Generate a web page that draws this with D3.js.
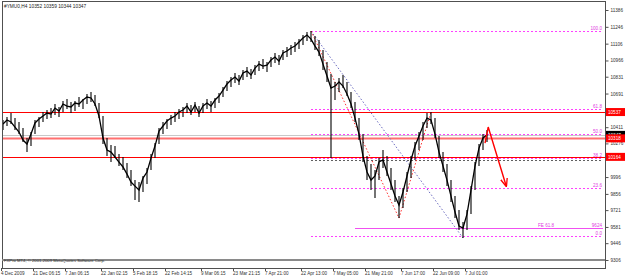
<!DOCTYPE html>
<html>
<head>
<meta charset="utf-8">
<script src="https://cdn.jsdelivr.net/npm/d3@7"></script>
<style>
  body { margin: 0; background: #fff; }
  svg text { font-family: "Liberation Sans", Arial, sans-serif; }
</style>
</head>
<body>
<svg id="chart" width="625" height="277"></svg>
<script>
// H4 bars, one per entry
const hi = [10471,10496,10529,10487,10454,10404,10321,10371,10471,10496,
  10537,10554,10570,10604,10579,10629,10645,10620,10629,10662,
  10645,10687,10704,10679,10612,10504,10321,10263,10254,10188,
  10163,10113,10055,9971,9955,10005,10071,10188,10279,10404,
  10454,10479,10512,10537,10562,10579,10612,10595,10620,10587,
  10612,10645,10629,10654,10695,10745,10795,10828,10862,10845,
  10887,10912,10895,10928,10961,10978,10953,10995,11028,11011,
  11053,11078,11095,11120,11144,11178,11203,11211,11169,11136,
  11053,10953,10853,10787,10820,10845,10787,10704,10620,10487,
  10354,10171,10105,10055,10154,10221,10171,10071,9971,9838,
  9905,10038,10171,10288,10371,10454,10529,10537,10487,10337,
  10204,10105,9971,9838,9722,9622,9722,9921,10121,10271,
  10354,10387];
const lo = [10387,10421,10437,10387,10354,10288,10204,10254,10354,10412,
  10454,10479,10487,10512,10496,10537,10562,10529,10545,10579,
  10562,10604,10620,10587,10487,10271,10171,10121,10154,10088,
  10055,9988,9921,9805,9788,9872,9938,10055,10154,10271,
  10354,10396,10429,10454,10479,10496,10529,10512,10537,10496,
  10529,10562,10537,10570,10612,10662,10712,10745,10778,10762,
  10803,10828,10812,10845,10878,10895,10870,10912,10945,10928,
  10970,10995,11011,11036,11061,11095,11128,11120,11053,11003,
  10887,10787,10154,10637,10704,10737,10670,10570,10454,10304,
  10121,9971,9888,9822,9971,10071,10005,9888,9788,9655,
  9739,9872,9988,10138,10221,10304,10404,10437,10321,10154,
  10038,9921,9788,9655,9555,9489,9555,9688,9888,10088,
  10221,10288];
const close = [10437,10471,10454,10412,10371,10304,10271,10354,10446,10479,
  10504,10529,10520,10570,10545,10604,10587,10579,10612,10604,
  10637,10662,10654,10604,10504,10321,10221,10204,10163,10121,
  10080,10021,9955,9921,9888,9988,10038,10154,10254,10379,
  10421,10462,10487,10504,10537,10554,10587,10537,10595,10529,
  10587,10612,10587,10637,10670,10720,10770,10803,10828,10795,
  10862,10878,10845,10903,10936,10920,10928,10970,10995,10961,
  11028,11045,11070,11086,11120,11153,11178,11144,11086,11036,
  10936,10837,10737,10753,10787,10753,10687,10604,10487,10354,
  10171,10038,9971,10005,10121,10138,10038,9938,9838,9763,
  9872,10005,10138,10254,10337,10421,10487,10471,10354,10204,
  10088,9971,9838,9705,9589,9572,9688,9888,10088,10237,
  10321,10347];

const timeLabels = ["4 Dec 2009","21 Dec 06:15","7 Jan 06:15","22 Jan 02:15","5 Feb 18:15",
  "22 Feb 14:15","9 Mar 06:15","23 Mar 21:15","7 Apr 21:00","22 Apr 13:00",
  "7 May 05:00","21 May 21:00","7 Jun 17:00","22 Jun 09:00","7 Jul 01:00"];
const timeLabelBars = [0, 8, 16, 25, 33, 41, 50, 58, 66, 75, 83, 91, 100, 108, 116];

// ticks hidden behind the price boxes are left out
const priceTicks = [11386,11246,11106,10966,10831,10691,10411,10276,9996,9856,9721,9581,9446,9306];

const fibNames = ["100.0","61.8","50.0","38.2","23.6","0.0"];
const fibPrices = [11211,10560,10358,10157,9908,9506];
const fibStartBar = 77;
const fePrice = 9572, feStartBar = 88, feName = "FE 61.8", feText = "9624";

const hLines = [10537, 10318, 10164];   // red horizontal lines
const bidPrice = 10347;
const zigzag = [[77,11211],[99,9655],[107,10537]];
const trendLine = [[77,11211],[115,9489]];
const arrowPath = [[120.5,10279],[121.3,10412],[125.8,9922]];

const header = "#YMU0,H4  10352 10359 10344 10347";
const copyright = "FXPro MT4, \u00a9 2001-2009 MetaQuotes Software Corp.";

const svg = d3.select("#chart");
const frameL = 2, frameR = 605, frameT = 1, frameB = 268;

const x = d3.scaleLinear().domain([0, 150.5]).range([3, 605]);
const y = d3.scaleLinear().domain([9306, 11386]).range([260, 10]);
const py = v => Math.round(y(v)) + 0.5;   // crisp horizontal lines

const defs = svg.append("defs");
defs.append("marker").attr("id", "arr")
  .attr("viewBox", "0 0 10 10").attr("refX", 9).attr("refY", 5)
  .attr("markerWidth", 6).attr("markerHeight", 6).attr("orient", "auto")
  .append("path").attr("d", "M0,1 L10,5 L0,9").attr("fill", "none")
  .attr("stroke", "#ff0000").attr("stroke-width", 1.6);

const plot = svg.append("g");

// bid line
plot.append("line").attr("x1", frameL).attr("x2", frameR)
  .attr("y1", py(bidPrice)).attr("y2", py(bidPrice))
  .attr("stroke", "#c8c8c8").attr("stroke-width", 1);

// red levels
plot.selectAll(".hl").data(hLines).enter().append("line")
  .attr("x1", frameL).attr("x2", frameR)
  .attr("y1", d => py(d)).attr("y2", d => py(d))
  .attr("stroke", (d, i) => i == 1 ? "#ff7070" : "#ff0000")
  .attr("stroke-width", (d, i) => i == 1 ? 2 : 1);
plot.append("line").attr("x1", x(fibStartBar)).attr("x2", frameR - 2)
  .attr("y1", py(10164) + 3).attr("y2", py(10164) + 3)
  .attr("stroke", "#606060").attr("stroke-dasharray", "2,2");

// fibo
plot.selectAll(".fib").data(fibPrices).enter().append("line")
  .attr("x1", x(fibStartBar)).attr("x2", frameR - 2)
  .attr("y1", d => py(d)).attr("y2", d => py(d))
  .attr("stroke", "#ff40ff").attr("stroke-width", 1).attr("stroke-dasharray", "2,2")
  .attr("shape-rendering", "crispEdges");
plot.selectAll(".fibt").data(fibNames).enter().append("text")
  .attr("x", frameR - 3).attr("y", (d, i) => py(fibPrices[i]) - 1.5)
  .attr("text-anchor", "end").attr("font-size", 4.6).attr("fill", "#e040e0")
  .text(d => d);

plot.append("line").attr("x1", x(feStartBar)).attr("x2", frameR - 2)
  .attr("y1", py(fePrice)).attr("y2", py(fePrice))
  .attr("stroke", "#f050f0").attr("stroke-width", 1.2);
plot.append("text").attr("x", 538).attr("y", py(fePrice) - 1.5)
  .attr("font-size", 4.6).attr("fill", "#e040e0").text(feName);
plot.append("text").attr("x", frameR - 3).attr("y", py(fePrice) - 1.5)
  .attr("text-anchor", "end").attr("font-size", 4.6).attr("fill", "#e040e0").text(feText);

const ln = d3.line().x(d => x(d[0])).y(d => y(d[1]));
plot.append("path").attr("d", ln(trendLine)).attr("fill", "none")
  .attr("stroke", "#6a6ac0").attr("stroke-dasharray", "1.5,2");
plot.append("path").attr("d", ln(zigzag)).attr("fill", "none")
  .attr("stroke", "#ff3030").attr("stroke-dasharray", "1.5,2");

// price bars
const bars = plot.append("g");
bars.selectAll(".b").data(hi).enter().append("line")
  .attr("x1", (d, i) => x(i)).attr("x2", (d, i) => x(i))
  .attr("y1", d => y(d)).attr("y2", (d, i) => y(lo[i]))
  .attr("stroke", "#000").attr("stroke-width", 1.1);
bars.append("path").attr("d", d3.line().x((d, i) => x(i)).y(d => y(d))(close))
  .attr("fill", "none").attr("stroke", "#000").attr("stroke-width", 1.3);

plot.append("path").attr("d", ln(arrowPath)).attr("fill", "none")
  .attr("stroke", "#ff0000").attr("stroke-width", 1.4).attr("marker-end", "url(#arr)");

// frame
svg.append("rect").attr("x", frameL + 0.5).attr("y", frameT + 0.5)
  .attr("width", frameR - frameL).attr("height", frameB - frameT)
  .attr("fill", "none").attr("stroke", "#505050");
svg.append("line").attr("x1", frameL).attr("x2", frameR).attr("y1", 260).attr("y2", 260)
  .attr("stroke", "#8a8a8a").attr("stroke-width", 2.2);
svg.append("text").attr("x", 4).attr("y", 261.5).attr("font-size", 4.2)
  .attr("fill", "#303030").text(copyright);
svg.append("text").attr("x", 4).attr("y", 8).attr("font-size", 4.8)
  .attr("fill", "#202020").text(header);

// right price axis
const yAxis = d3.axisRight(y).tickValues(priceTicks).tickFormat(d3.format("d"))
  .tickSize(3).tickPadding(2);
const ya = svg.append("g").attr("transform", "translate(" + (frameR + 0.5) + ",0)").call(yAxis);
ya.select(".domain").remove();
ya.selectAll("line").attr("stroke", "#505050");
ya.selectAll("text").attr("font-size", 4.6).attr("fill", "#303030")
  .attr("font-family", "Liberation Sans, Arial, sans-serif");

// price boxes
const boxes = [[10537, "#ff0000"], [10347, "#000000"], [10318, "#ff0000"], [10164, "#ff0000"]];
boxes.forEach(b => {
  svg.append("rect").attr("x", frameR + 1).attr("y", y(b[0]) - 4)
    .attr("width", 19).attr("height", 8).attr("fill", b[1]);
  svg.append("text").attr("x", frameR + 3).attr("y", y(b[0]) + 1.8)
    .attr("font-size", 4.6).attr("fill", "#fff").text(b[0]);
});

// time axis
const xa = svg.append("g");
xa.selectAll(".t").data(timeLabelBars).enter().append("line")
  .attr("x1", d => x(d) - 1.5).attr("x2", d => x(d) - 1.5)
  .attr("y1", frameB).attr("y2", frameB + 3).attr("stroke", "#505050");
xa.selectAll(".tl").data(timeLabels).enter().append("text")
  .attr("x", (d, i) => x(timeLabelBars[i]) - 2).attr("y", 275)
  .attr("font-size", 4.6).attr("fill", "#303030").text(d => d);
</script>
</body>
</html>
